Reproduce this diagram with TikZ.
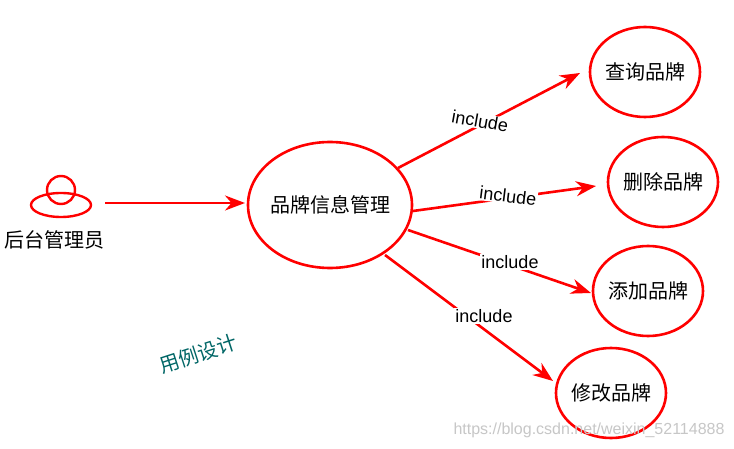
\documentclass[tikz,border=0pt]{standalone}
\usepackage{fontspec}
\setmainfont{Liberation Sans}
\newfontfamily\cjk{Noto Sans CJK SC}
\usetikzlibrary{arrows.meta}
\begin{document}
\begin{tikzpicture}[x=1pt,y=-1pt,
  cf/.style={font=\cjk\fontsize{20}{22}\selectfont},
  arr/.style={draw=red,line width=2.6pt,-{Stealth[length=20pt,width=15pt]}},
  lab/.style={fill=white,inner sep=1pt,font=\fontsize{18}{20}\selectfont}]
\useasboundingbox (0,0) rectangle (734,449);
\fill[white] (0,0) rectangle (734,449);
\draw[red,line width=2.4pt] (61,190) circle (14);
\draw[red,line width=2.4pt] (61,205) ellipse (30 and 12);
\coordinate (act) at (105,203);
\node[cf] (actl) at (55,240) {后台管理员};
\draw[red,line width=2.6pt] (330,205) ellipse (82 and 63);
\node[cf] (m) at (330,205) {品牌信息管理};
\coordinate (mw) at (245,203);
\draw[arr] (act) -- (mw);
\foreach \n/\x/\y/\t in {a/645/72/查询品牌,b/663/182/删除品牌,c/648/291/添加品牌,d/611/393/修改品牌}{
  \draw[red,line width=2.6pt] (\x,\y) ellipse (55 and 45);
  \node[cf] (\n) at (\x,\y) {\t};
}
\coordinate (s1) at (398,168); \coordinate (e1) at (580,73);
\coordinate (s2) at (413,211); \coordinate (e2) at (596,186);
\coordinate (s3) at (408,230); \coordinate (e3) at (591,293);
\coordinate (s4) at (385,255); \coordinate (e4) at (553,381);
\draw[arr] (s1) -- (e1);
\draw[arr] (s2) -- (e2);
\draw[arr] (s3) -- (e3);
\draw[arr] (s4) -- (e4);
\node[lab,rotate=-10] (l1) at (480,121) {include};
\node[lab,rotate=-7] (l2) at (508,196) {include};
\node[lab] (l3) at (510,262) {include};
\node[lab] (l4) at (484,316) {include};
\node[cf,text=teal!80!black,rotate=18] (t) at (198,354) {用例设计};
\node[font=\fontsize{16}{18}\selectfont,text=black!22] (w) at (589,430) {https://blog.csdn.net/weixin\_52114888};
\end{tikzpicture}
\end{document}
